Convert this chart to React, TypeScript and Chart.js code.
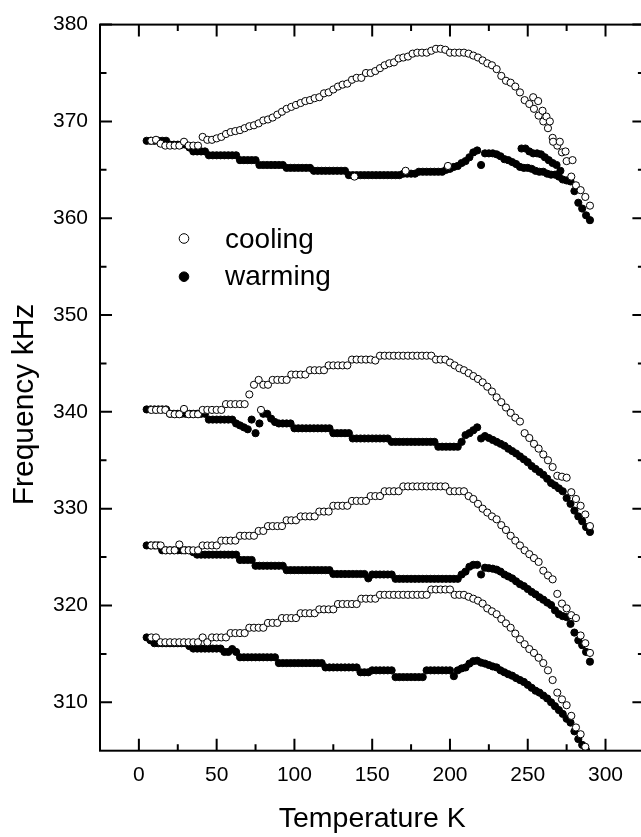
import React, { useEffect, useRef } from 'react';
import { Chart, registerables } from 'chart.js';

Chart.register(...registerables);

// ---------- data ----------
const tempCool = [
  8, 11, 14, 17, 20, 23, 26, 29, 32, 35,
  38, 41, 44, 47, 50, 53, 56, 59, 62, 65,
  68, 71, 74, 77, 80, 83, 86, 89, 92, 95,
  98, 101, 104, 107, 110, 113, 116, 119, 122, 125,
  128, 131, 134, 137, 140, 143, 146, 149, 152, 155,
  158, 161, 164, 167, 170, 173, 176, 179, 182, 185,
  188, 191, 194, 197, 200, 203, 206, 209, 212, 215,
  218, 221, 224, 227, 230, 233, 236, 239, 242, 245,
  248, 251, 254, 257, 260, 263, 266, 269, 272, 275,
  278, 281, 284, 287, 290,
];

const coolMode1 = [
  368.0, 368.1, 367.7, 367.5, 367.5, 367.5, 367.5, 367.9, 367.5, 367.5,
  367.5, 368.4, 368.1, 368.1, 368.25, 368.4, 368.7, 368.9, 369.0, 369.1,
  369.3, 369.5, 369.6, 369.8, 370.1, 370.2, 370.4, 370.7, 371.0, 371.3,
  371.5, 371.7, 371.9, 372.1, 372.2, 372.4, 372.5, 372.9, 373.0, 373.3,
  373.6, 373.8, 373.9, 374.3, 374.5, 374.5, 375.0, 375.0, 375.2, 375.5,
  375.8, 376.0, 376.1, 376.5, 376.6, 376.7, 377.0, 377.1, 377.1, 377.1,
  377.3, 377.5, 377.5, 377.4, 377.1, 377.1, 377.1, 377.1, 377.0, 376.8,
  376.6, 376.3, 376.0, 375.8, 375.4, 374.7, 374.2, 374.0, 373.6, 373.0,
  372.2, 371.8, 371.3, 370.6, 370.0, 369.3, 368.3, 367.5, 366.8, 365.9,
  364.3, 363.4, 362.9, 362.2, 361.3,
];

const coolMode2 = [
  340.2, 340.2, 340.2, 340.2, 339.8, 339.75, 339.75, 340.3, 339.75, 339.75,
  339.75, 340.2, 340.2, 340.2, 340.2, 340.2, 340.8, 340.8, 340.8, 340.8,
  340.8, 341.8, 342.8, 343.3, 342.8, 342.8, 343.3, 343.3, 343.3, 343.3,
  343.85, 343.85, 343.85, 343.85, 344.3, 344.3, 344.3, 344.3, 344.8, 344.8,
  344.8, 344.8, 344.8, 345.4, 345.4, 345.4, 345.4, 345.4, 345.3, 345.8,
  345.8, 345.8, 345.8, 345.8, 345.8, 345.8, 345.8, 345.8, 345.8, 345.8,
  345.8, 345.4, 345.4, 345.4, 345.1, 344.8, 344.5, 344.3, 344.0, 343.7,
  343.4, 343.05, 342.6, 342.1, 341.5, 341.0, 340.45, 339.9, 339.4, 339.0,
  337.8, 337.3, 336.7, 336.2, 335.6, 335.0, 334.3, 333.4, 333.3, 333.2,
  331.7, 331.0, 330.3, 329.4, 328.2,
];

const coolMode3 = [
  326.2, 326.2, 326.2, 325.7, 325.7, 325.7, 326.3, 325.7, 325.7, 325.7,
  325.7, 326.2, 326.2, 326.2, 326.2, 326.7, 326.7, 326.7, 326.7, 327.2,
  327.2, 327.2, 327.2, 327.7, 327.7, 328.2, 328.2, 328.2, 328.2, 328.8,
  328.8, 328.8, 329.2, 329.2, 329.2, 329.2, 329.7, 329.7, 329.7, 330.3,
  330.3, 330.3, 330.3, 330.8, 330.8, 330.8, 330.8, 331.3, 331.3, 331.3,
  331.8, 331.8, 331.8, 331.8, 332.3, 332.3, 332.3, 332.3, 332.3, 332.3,
  332.3, 332.3, 332.3, 332.3, 331.8, 331.8, 331.8, 331.8, 331.3, 331.0,
  330.5, 330.0, 329.6, 329.2, 328.9, 328.3, 327.8, 327.2, 326.7, 326.2,
  325.7, 325.3, 324.9, 324.5, 323.6, 323.1, 322.7, 321.2, 320.2, 319.7,
  319.0, 318.7, 316.9, 316.1, 315.1,
];

const coolMode4 = [
  316.7, 316.7, 316.2, 316.2, 316.2, 316.2, 316.2, 316.2, 316.2, 316.2,
  316.2, 316.7, 316.2, 316.7, 316.7, 316.7, 316.7, 317.15, 317.15, 317.15,
  317.15, 317.7, 317.7, 317.7, 317.7, 318.2, 318.2, 318.2, 318.7, 318.7,
  318.7, 318.7, 319.2, 319.2, 319.2, 319.2, 319.6, 319.6, 319.6, 319.6,
  320.15, 320.15, 320.15, 320.15, 320.15, 320.7, 320.7, 320.7, 320.7, 321.1,
  321.1, 321.1, 321.1, 321.1, 321.1, 321.1, 321.1, 321.1, 321.1, 321.1,
  321.65, 321.65, 321.65, 321.65, 321.65, 321.1, 321.1, 321.1, 320.9, 320.7,
  320.5, 320.2, 319.7, 319.4, 319.1, 318.6, 318.15, 317.7, 317.1, 316.5,
  316.0, 315.5, 315.1, 314.6, 314.05, 313.3, 312.3, 311.0, 310.3, 309.7,
  308.6, 307.4, 306.7, 305.4, 304.3,
];

const coolExtraTemp = [138.6, 171.5, 198.7, 253.5, 256.7, 259.5, 262, 264.2, 266.3, 270.6, 274.3, 278.8, 78.5];
const coolExtraFreq = [364.3, 364.9, 365.4, 372.5, 372.1, 371.1, 370.5, 370.0, 367.9, 367.9, 366.9, 366.0, 340.2];

const tempWarm = [
  5, 7.5, 10, 12.5, 15, 17.5, 20, 22.5, 25, 27.5,
  30, 32.5, 35, 37.5, 40, 42.5, 45, 47.5, 50, 52.5,
  55, 57.5, 60, 62.5, 65, 67.5, 70, 72.5, 75, 77.5,
  80, 82.5, 85, 87.5, 90, 92.5, 95, 97.5, 100, 102.5,
  105, 107.5, 110, 112.5, 115, 117.5, 120, 122.5, 125, 127.5,
  130, 132.5, 135, 137.5, 140, 142.5, 145, 147.5, 150, 152.5,
  155, 157.5, 160, 162.5, 165, 167.5, 170, 172.5, 175, 177.5,
  180, 182.5, 185, 187.5, 190, 192.5, 195, 197.5, 200, 202.5,
  205, 207.5, 210, 212.5, 215, 217.5, 220, 222.5, 225, 227.5,
  230, 232.5, 235, 237.5, 240, 242.5, 245, 247.5, 250, 252.5,
  255, 257.5, 260, 262.5, 265, 267.5, 270, 272.5, 275, 277.5,
  280, 282.5, 285, 287.5, 290,
];

const warmMode1 = [
  368.0, 368.0, 368.0, 368.0, 368.0, 368.0, 367.6, 367.6, 367.6, 367.6,
  367.6, 367.3, 366.9, 366.9, 366.9, 366.9, 366.5, 366.5, 366.5, 366.5,
  366.5, 366.5, 366.5, 366.5, 366.0, 366.0, 366.0, 366.0, 366.0, 365.5,
  365.5, 365.5, 365.5, 365.5, 365.5, 365.5, 365.2, 365.2, 365.2, 365.2,
  365.2, 365.2, 365.2, 364.9, 364.9, 364.9, 364.9, 364.9, 364.9, 364.9,
  364.9, 364.9, 364.45, 364.45, 364.45, 364.45, 364.45, 364.45, 364.45, 364.45,
  364.45, 364.45, 364.45, 364.45, 364.45, 364.45, 364.6, 364.6, 364.6, 364.6,
  364.8, 364.8, 364.8, 364.8, 364.8, 364.8, 364.8, 365.0, 365.1, 365.3,
  365.4, 365.7, 365.9, 366.3, 366.8, 367.0, 365.5, 366.7, 366.7, 366.7,
  366.6, 366.4, 366.1, 366.0, 365.8, 365.6, 365.3, 365.2, 365.2, 365.1,
  364.9, 364.8, 364.8, 364.6, 364.5, 364.5, 364.3, 364.0, 363.9, 363.8,
  362.8, 361.6, 361.0, 360.3, 359.8,
];

const warmMode2 = [
  340.25, 340.25, 340.25, 340.25, 340.25, 340.25, 339.8, 339.8, 339.8, 339.8,
  339.8, 339.8, 339.8, 339.8, 339.8, 339.8, 339.2, 339.2, 339.2, 339.2,
  339.2, 339.2, 339.2, 338.8, 338.6, 338.4, 338.2, 339.2, 337.8, 338.8,
  339.8, 339.8, 339.3, 338.95, 338.8, 338.8, 338.8, 338.8, 338.3, 338.3,
  338.3, 338.3, 338.3, 338.3, 338.3, 338.3, 338.3, 338.3, 337.8, 337.8,
  337.8, 337.8, 337.8, 337.25, 337.25, 337.25, 337.25, 337.25, 337.25, 337.25,
  337.25, 337.25, 337.25, 336.9, 336.9, 336.9, 336.9, 336.9, 336.9, 336.9,
  336.9, 336.9, 336.9, 336.9, 336.9, 336.4, 336.4, 336.4, 336.4, 336.4,
  336.4, 336.9, 337.6, 337.8, 338.1, 338.4, 337.25, 337.5, 337.3, 337.1,
  336.9, 336.7, 336.5, 336.2, 335.95, 335.7, 335.4, 335.1, 334.8, 334.4,
  334.1, 333.8, 333.5, 333.1, 332.65, 332.4, 332.1, 331.8, 331.1, 330.5,
  329.8, 329.2, 328.7, 328.1, 327.6,
];

const warmMode3 = [
  326.2, 326.2, 326.2, 326.2, 325.7, 325.7, 325.7, 325.7, 325.7, 325.7,
  325.7, 325.7, 325.5, 325.25, 325.25, 325.25, 325.25, 325.25, 325.25, 325.25,
  325.25, 325.25, 325.25, 325.25, 324.7, 324.7, 324.7, 324.7, 324.1, 324.1,
  324.1, 324.1, 324.1, 324.1, 324.1, 324.1, 323.65, 323.65, 323.65, 323.65,
  323.65, 323.65, 323.65, 323.65, 323.65, 323.65, 323.65, 323.65, 323.25, 323.25,
  323.25, 323.25, 323.25, 323.25, 323.25, 323.25, 323.25, 322.8, 323.2, 323.2,
  323.2, 323.2, 323.2, 323.2, 322.75, 322.75, 322.75, 322.75, 322.75, 322.75,
  322.75, 322.75, 322.75, 322.75, 322.75, 322.75, 322.75, 322.75, 322.75, 322.75,
  322.75, 323.2, 323.5, 324.0, 324.2, 324.2, 323.2, 323.9, 323.85, 323.8,
  323.7, 323.5, 323.2, 323.0, 322.8, 322.5, 322.2, 322.0, 321.7, 321.4,
  321.15, 320.85, 320.6, 320.3, 320.05, 319.5, 319.1, 318.9, 318.8, 318.1,
  317.2, 316.4, 315.9, 315.2, 314.2,
];

const warmMode4 = [
  316.7, 316.4, 316.1, 316.1, 316.1, 316.1, 316.1, 316.1, 316.1, 316.1,
  316.1, 315.8, 315.55, 315.55, 315.55, 315.55, 315.55, 315.55, 315.55, 315.55,
  315.2, 315.2, 315.5, 315.2, 314.65, 314.65, 314.65, 314.65, 314.65, 314.65,
  314.65, 314.65, 314.65, 314.65, 314.05, 314.05, 314.05, 314.05, 314.05, 314.05,
  314.05, 314.05, 314.05, 314.05, 314.05, 314.05, 313.6, 313.6, 313.6, 313.6,
  313.6, 313.6, 313.6, 313.6, 313.6, 313.1, 313.1, 313.1, 313.3, 313.3,
  313.3, 313.3, 313.3, 313.3, 312.6, 312.6, 312.6, 312.6, 312.6, 312.6,
  312.6, 312.6, 313.3, 313.3, 313.3, 313.3, 313.3, 313.3, 313.3, 312.7,
  313.3, 313.5, 313.6, 314.0, 314.25, 314.3, 314.1, 314.0, 313.85, 313.7,
  313.6, 313.3, 313.1, 312.9, 312.75, 312.5, 312.3, 312.1, 311.8, 311.5,
  311.2, 311.0, 310.7, 310.4, 310.0, 309.6, 309.2, 308.8, 308.3, 307.9,
  307.0, 306.2, 305.6, 305.05, 304.3,
];

const warmExtraTemp = [246, 248.5, 251, 253.5, 256, 258.5, 261, 263.5, 266, 268.5, 271];
const warmExtraFreq = [367.2, 367.2, 366.9, 366.7, 366.7, 366.6, 366.3, 366.0, 365.7, 365.5, 364.9];

const seriesLabels = ['cooling', 'warming'];
const xTickLabels = [0, 50, 100, 150, 200, 250, 300];
const xMinorTicks = [25, 75, 125, 175, 225, 275, 325];
const yTickLabels = [310, 320, 330, 340, 350, 360, 370, 380];
const yMinorTicks = [315, 325, 335, 345, 355, 365, 375];
const xTitle = 'Temperature K';
const yTitle = 'Frequency kHz';

// ---------- helpers ----------
const toPoints = (ts: number[], fs: number[]) => ts.map((t, i) => ({ x: t, y: fs[i] }));

const coolingPoints = [coolMode1, coolMode2, coolMode3, coolMode4]
  .flatMap((f) => toPoints(tempCool, f))
  .concat(toPoints(coolExtraTemp, coolExtraFreq));
const warmingPoints = [warmMode1, warmMode2, warmMode3, warmMode4]
  .flatMap((f) => toPoints(tempWarm, f))
  .concat(toPoints(warmExtraTemp, warmExtraFreq));

const FONT = "'Liberation Sans', Arial, Helvetica, sans-serif";

const framePlugin = {
  id: 'frameTicks',
  afterDatasetsDraw(chart: any) {
    const { ctx, chartArea: a, scales } = chart;
    const xs = scales.x;
    const ys = scales.y;
    ctx.save();
    ctx.strokeStyle = '#000';
    ctx.lineWidth = 2;
    ctx.strokeRect(a.left, a.top, a.right - a.left, a.bottom - a.top);
    ctx.beginPath();
    const major = 12;
    const minor = 6.5;
    const xt = (v: number, len: number) => {
      const p = xs.getPixelForValue(v);
      ctx.moveTo(p, a.bottom);
      ctx.lineTo(p, a.bottom - len);
      ctx.moveTo(p, a.top);
      ctx.lineTo(p, a.top + len);
    };
    const yt = (v: number, len: number) => {
      const p = ys.getPixelForValue(v);
      ctx.moveTo(a.left, p);
      ctx.lineTo(a.left + len, p);
      ctx.moveTo(a.right, p);
      ctx.lineTo(a.right - len, p);
    };
    xTickLabels.forEach((v) => xt(v, major));
    xMinorTicks.forEach((v) => xt(v, minor));
    yTickLabels.forEach((v) => yt(v, major));
    yMinorTicks.forEach((v) => yt(v, minor));
    ctx.stroke();
    ctx.restore();
  },
  afterDraw(chart: any) {
    const { ctx } = chart;
    ctx.save();
    // y-axis title
    ctx.translate(24.4, 404.5);
    ctx.rotate(-Math.PI / 2);
    ctx.font = `30px ${FONT}`;
    ctx.fillStyle = '#000';
    ctx.textAlign = 'center';
    ctx.textBaseline = 'middle';
    ctx.fillText(yTitle, 0, 0);
    ctx.restore();

    // legend inside plot
    const markerX = 184;
    const markerY = [238.5, 276.7];
    const textX = 225;
    const textBase = [248.3, 285];
    ctx.save();
    chart.data.datasets.forEach((ds: any, i: number) => {
      ctx.beginPath();
      ctx.arc(markerX, markerY[i], 4.8, 0, Math.PI * 2);
      ctx.fillStyle = ds.backgroundColor;
      ctx.fill();
      ctx.lineWidth = 1;
      ctx.strokeStyle = ds.borderColor;
      ctx.stroke();
      ctx.font = `28px ${FONT}`;
      ctx.fillStyle = '#000';
      ctx.textAlign = 'left';
      ctx.textBaseline = 'alphabetic';
      ctx.fillText(ds.label, textX, textBase[i]);
    });
    ctx.restore();
  },
};

export default function App() {
  const ref = useRef<HTMLCanvasElement>(null);

  useEffect(() => {
    if (!ref.current) return;
    const chart = new Chart(ref.current, {
      type: 'scatter',
      data: {
        datasets: [
          {
            label: seriesLabels[0],
            data: coolingPoints,
            pointRadius: 3.6,
            pointHoverRadius: 3.6,
            backgroundColor: '#ffffff',
            borderColor: '#000000',
            borderWidth: 1,
            showLine: false,
          },
          {
            label: seriesLabels[1],
            data: warmingPoints,
            pointRadius: 3.6,
            pointHoverRadius: 3.6,
            backgroundColor: '#000000',
            borderColor: '#000000',
            borderWidth: 1,
            showLine: false,
          },
        ],
      },
      options: {
        animation: false,
        responsive: false,
        maintainAspectRatio: false,
        events: [],
        layout: { padding: { left: 0, top: 19, right: 15.6, bottom: 0 } },
        plugins: { legend: { display: false }, tooltip: { enabled: false } },
        scales: {
          x: {
            type: 'linear',
            min: -25,
            max: 325,
            grid: { display: false, drawTicks: false },
            border: { display: false },
            afterBuildTicks: (s: any) => {
              s.ticks = xTickLabels.map((v) => ({ value: v }));
            },
            afterFit: (s: any) => {
              s.height = 86.3;
            },
            ticks: {
              color: '#000',
              padding: 12,
              maxRotation: 0,
              autoSkip: false,
              font: { family: FONT, size: 21 },
            },
            title: {
              display: true,
              text: xTitle,
              color: '#000',
              font: { family: FONT, size: 28.5 },
              padding: { top: 0, bottom: 1 },
            },
          },
          y: {
            type: 'linear',
            min: 305,
            max: 380,
            grid: { display: false, drawTicks: false },
            border: { display: false },
            afterBuildTicks: (s: any) => {
              s.ticks = yTickLabels.map((v) => ({ value: v }));
            },
            afterFit: (s: any) => {
              s.width = 100;
            },
            ticks: {
              color: '#000',
              padding: 12,
              autoSkip: false,
              font: { family: FONT, size: 21 },
            },
          },
        },
      } as any,
      plugins: [framePlugin],
    });
    return () => chart.destroy();
  }, []);

  return (
    <div
      style={{
        position: 'fixed',
        left: 0,
        top: 0,
        width: 641,
        height: 837,
        overflow: 'hidden',
        background: '#ffffff',
      }}
    >
      <canvas ref={ref} width={660} height={837} style={{ display: 'block' }} />
    </div>
  );
}
